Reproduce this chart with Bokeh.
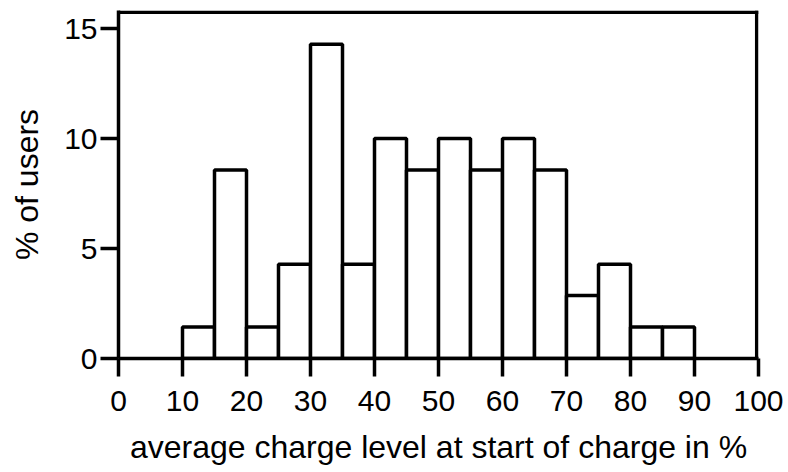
from bokeh.plotting import figure
from bokeh.models import Range1d, FixedTicker, Span
from bokeh.embed import file_html
from bokeh.resources import INLINE

bin_left = [10, 15, 20, 25, 30, 35, 40, 45, 50, 55, 60, 65, 70, 75, 80, 85]
bin_right = [15, 20, 25, 30, 35, 40, 45, 50, 55, 60, 65, 70, 75, 80, 85, 90]
pct_users = [1.43, 8.57, 1.43, 4.29, 14.29, 4.29, 10.0, 8.57, 10.0, 8.57, 10.0, 8.57, 2.86, 4.29, 1.43, 1.43]
x_ticks = [0, 10, 20, 30, 40, 50, 60, 70, 80, 90, 100]
y_ticks = [0, 5, 10, 15]
x_title = "average charge level at start of charge in %"
y_title = "% of users"

X_MAX = 100
Y_MAX = 15.82
FONT = "Liberation Sans"

p = figure(width=788, height=472, output_backend="svg", toolbar_location=None,
           x_range=Range1d(0, X_MAX), y_range=Range1d(0, Y_MAX),
           min_border_left=118, min_border_right=30, min_border_top=10, min_border_bottom=114)

p.quad(left=bin_left, right=bin_right, bottom=0, top=pct_users,
       fill_color="white", line_color="black", line_width=3.5)

p.xgrid.visible = False
p.ygrid.visible = False
p.outline_line_color = None
p.background_fill_color = "white"
p.border_fill_color = "white"

for ax in (p.xaxis[0], p.yaxis[0]):
    ax.axis_line_color = "black"
    ax.axis_line_width = 3.5
    ax.major_tick_line_color = "black"
    ax.major_tick_line_width = 3.5
    ax.major_tick_out = 18
    ax.major_tick_in = 0
    ax.minor_tick_line_color = None
    ax.major_label_text_font = FONT
    ax.major_label_text_font_size = "30px"
    ax.major_label_text_color = "black"
    ax.axis_label_text_font = FONT
    ax.axis_label_text_font_size = "32px"
    ax.axis_label_text_font_style = "normal"
    ax.axis_label_text_color = "black"

p.xaxis.ticker = FixedTicker(ticks=x_ticks)
p.yaxis.ticker = FixedTicker(ticks=y_ticks)
p.xaxis.axis_label = x_title
p.yaxis.axis_label = y_title
p.xaxis.major_label_standoff = 14
p.yaxis.major_label_standoff = 3
p.xaxis.axis_label_standoff = 15
p.yaxis.axis_label_standoff = 16

# top and right frame lines, kept just inside the frame so they are not clipped
p.add_layout(Span(location=Y_MAX - 0.08, dimension="width", line_color="black", line_width=3.5))
p.add_layout(Span(location=X_MAX - 0.28, dimension="height", line_color="black", line_width=3.5))

open("out.html", "w").write(file_html(p, INLINE))
